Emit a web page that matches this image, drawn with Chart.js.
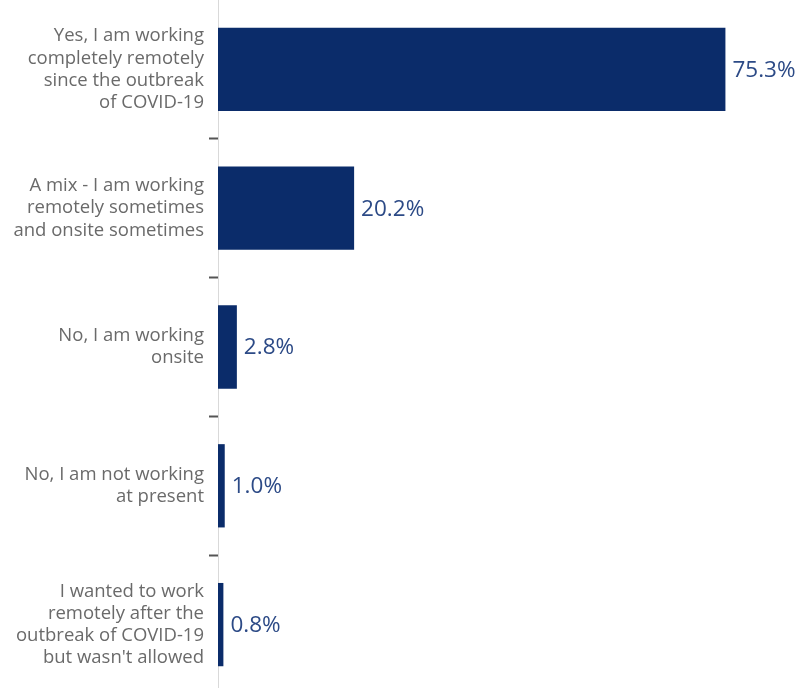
<!DOCTYPE html>
<html>
<head>
<meta charset="utf-8">
<script src="https://cdn.jsdelivr.net/npm/chart.js@4"></script>
<style>
  body { margin: 0; background: #fff; overflow: hidden; }
  /* the last band runs a little past the bottom of the window */
  #wrap { width: 811px; height: 694px; }
</style>
</head>
<body>
<div id="wrap"><canvas id="chart"></canvas></div>
<script>
// answers, one entry per bar (each split into display lines)
const answers = [
    ['Yes, I am working', 'completely remotely', 'since the outbreak', 'of COVID-19'],
    ['A mix - I am working', 'remotely sometimes', 'and onsite sometimes'],
    ['No, I am working', 'onsite'],
    ['No, I am not working', 'at present'],
    ['I wanted to work', 'remotely after the', 'outbreak of COVID-19', "but wasn't allowed"]
];
const shares = [75.3, 20.2, 2.8, 1.0, 0.8];

const BAR_COLOR = '#0b2c6a';
const VALUE_COLOR = '#2c4a86';
const LABEL_COLOR = '#6a6a6a';

// writes the percentage just past the end of each bar
const valueLabels = {
    id: 'valueLabels',
    afterDatasetsDraw(chart) {
        const ctx = chart.ctx;
        const meta = chart.getDatasetMeta(0);
        ctx.save();
        ctx.font = '22.5px "Open Sans", sans-serif';
        ctx.fillStyle = VALUE_COLOR;
        ctx.textAlign = 'left';
        ctx.textBaseline = 'middle';
        meta.data.forEach((bar, i) => {
            ctx.fillText(shares[i].toFixed(1) + '%', bar.x + 7, bar.y + 1);
        });
        ctx.restore();
    }
};

new Chart(document.getElementById('chart'), {
    type: 'bar',
    data: {
        labels: answers,
        datasets: [{
            data: shares,
            backgroundColor: BAR_COLOR,
            borderWidth: 0,
            barPercentage: 0.6,
            categoryPercentage: 1
        }]
    },
    options: {
        indexAxis: 'y',
        responsive: true,
        maintainAspectRatio: false,
        animation: false,
        layout: { padding: 0 },
        plugins: {
            legend: { display: false },
            tooltip: { enabled: false }
        },
        scales: {
            x: {
                display: false,
                min: 0,
                max: 88
            },
            y: {
                // keep the label column fixed and let the bars use the full height
                afterFit(scale) {
                    scale.width = 218;
                    scale.paddingTop = 0;
                    scale.paddingBottom = 0;
                },
                border: { display: true, color: '#d9d9d9', width: 1 },
                grid: {
                    drawOnChartArea: false,
                    drawTicks: true,
                    tickLength: 9,
                    tickWidth: 2,
                    tickColor: c => (c.index > 0 ? '#555' : 'transparent'),
                    offset: true
                },
                ticks: {
                    color: LABEL_COLOR,
                    padding: 5,
                    font: { family: '"Open Sans", sans-serif', size: 18.5, lineHeight: 1.2 }
                }
            }
        }
    },
    plugins: [valueLabels]
});
</script>
</body>
</html>
